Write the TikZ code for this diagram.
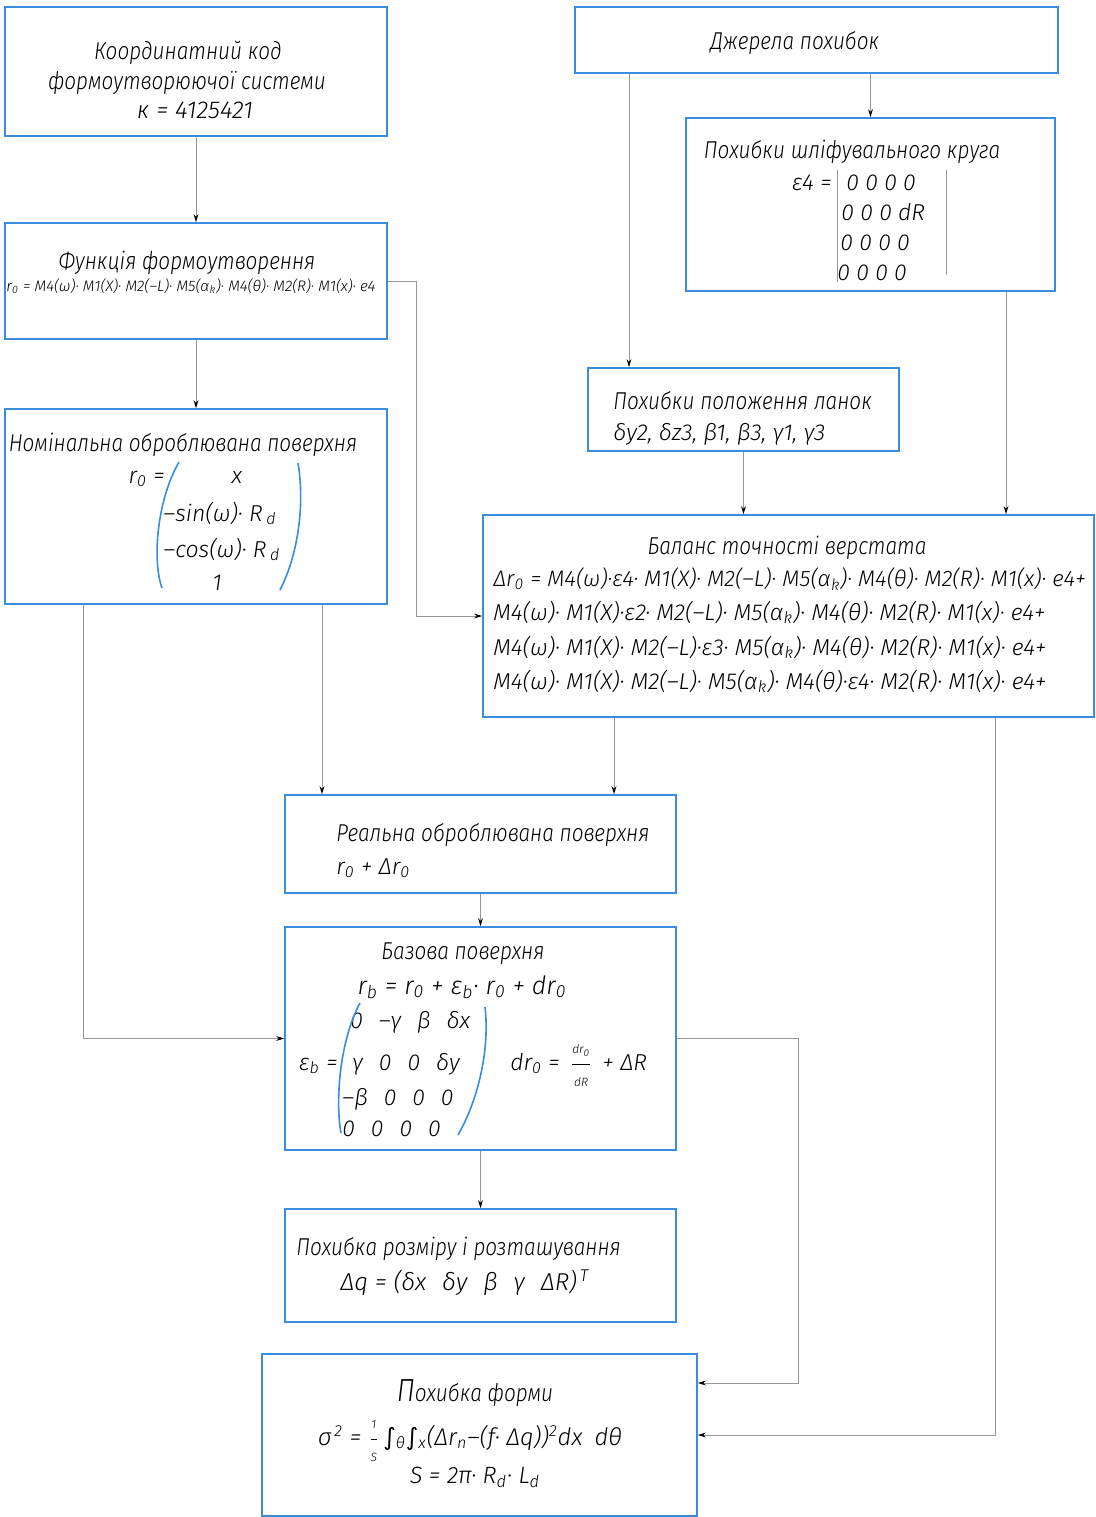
\documentclass[tikz,border=0pt]{standalone}
\usepackage{fontspec}
\setmainfont{Fira Sans Light Italic}
\newfontfamily\gst{Fira Sans Light Italic}[FakeStretch=0.85]
\newfontfamily\dvs{DejaVu Sans}
\usetikzlibrary{arrows.meta,fit}
\definecolor{boxblue}{RGB}{58,140,220}
\definecolor{conngray}{RGB}{150,150,150}
\newcommand\sbx[1]{\textsubscript{#1}}
\newcommand\spx[1]{\textsuperscript{#1}}
\newcommand\tfr[2]{\ensuremath{\displaystyle\frac{\hbox{\fontsize{6}{6}\selectfont #1}}{\hbox{\fontsize{6}{6}\selectfont #2}}}}
\begin{document}
\begin{tikzpicture}[x=0.5pt,y=-0.5pt,
  box/.style={draw=boxblue,line width=0.8pt,inner sep=0pt},
  conn/.style={draw=conngray,line width=0.5pt,-{Stealth[length=4pt,width=2.4pt,black]}},
  paren/.style={draw=boxblue,line width=0.8pt},
  vbar/.style={draw=conngray,line width=0.5pt},
  txt/.style={inner sep=0pt,anchor=base,font=\fontsize{11.5}{13}\selectfont},
  txtw/.style={txt,anchor=base west},
  txte/.style={txt,anchor=base east},
  ttl/.style={font=\gst\fontsize{12.2}{14}\selectfont},
  small/.style={font=\fontsize{7.6}{9}\selectfont}]
\useasboundingbox (0,0) rectangle (1096,1517);
% boxes
\node[box,fit={(5,7) (387,136)}] (b1) {};
\node[box,fit={(575,7) (1058,73)}] (b2) {};
\node[box,fit={(686,118) (1055,291)}] (b3) {};
\node[box,fit={(5,223) (387,339)}] (b4) {};
\node[box,fit={(588,368) (899,451)}] (b5) {};
\node[box,fit={(5,409) (387,604)}] (b6) {};
\node[box,fit={(483,515) (1094,717)}] (b7) {};
\node[box,fit={(285,795) (676,893)}] (b8) {};
\node[box,fit={(285,927) (676,1150)}] (b9) {};
\node[box,fit={(285,1209) (676,1322)}] (b10) {};
\node[box,fit={(262,1354) (697,1516)}] (b11) {};
% box 1
\node[txt,ttl] (t1a) at (188,59) {Координатний код};
\node[txt,ttl] (t1b) at (187,89) {формоутворюючої системи};
\node[txt,font=\fontsize{12.2}{14}\selectfont] (t1c) at (195,118) {к = 4125421};
% box 2
\node[txt,ttl] (t2) at (795,49) {Джерела похибок};
% box 3
\node[txt,ttl] (t3) at (852,158) {Похибки шліфувального круга};
\node[txte] (t3e) at (832,190) {ε4 =};
\node[txtw] (t3r1) at (846,190) {0 0 0 0};
\node[txtw] (t3r2) at (841,220) {0 0 0 dR};
\node[txtw] (t3r3) at (840,250) {0 0 0 0};
\node[txtw] (t3r4) at (837,280) {0 0 0 0};
\draw[vbar] (837,170) -- (837,282);
\draw[vbar] (946,170) -- (946,275);
% box 4
\node[txt,ttl] (t4) at (187,269) {Функція формоутворення};
\node[txtw,small] (t4f) at (6,291) {r\sbx{0} = M4(ω)· M1(X)· M2(–L)· M5(α\sbx{k})· M4(θ)· M2(R)· M1(x)· e4};
% box 5
\node[txtw,ttl] (t5a) at (613,409) {Похибки положення ланок};
\node[txtw] (t5b) at (613,440) {δy2, δz3, β1, β3, γ1, γ3};
% box 6
\node[txt,ttl] (t6) at (183,451) {Номінальна оброблювана поверхня};
\node[txte] (t6e) at (165,483) {r\sbx{0} =};
\node[txt] (t6r1) at (237,483) {x};
\node[txtw] (t6r2) at (163,521) {–sin(ω)· R\,\sbx{d}};
\node[txtw] (t6r3) at (163,557) {–cos(ω)· R\,\sbx{d}};
\node[txt] (t6r4) at (217,590) {1};
\draw[paren] (179,462) .. controls (157,500) and (152,560) .. (162,588);
\draw[paren] (298,463) .. controls (305,505) and (298,555) .. (280,590);
% box 7
\node[txt,ttl] (t7) at (787,554) {Баланс точності верстата};
\node[txtw,font=\fontsize{11.2}{13}\selectfont] (t7a) at (493,586) {Δr\sbx{0} = M4(ω)·ε4· M1(X)· M2(–L)· M5(α\sbx{k})· M4(θ)· M2(R)· M1(x)· e4+};
\node[txtw] (t7b) at (493,620) {M4(ω)· M1(X)·ε2· M2(–L)· M5(α\sbx{k})· M4(θ)· M2(R)· M1(x)· e4+};
\node[txtw] (t7c) at (493,655) {M4(ω)· M1(X)· M2(–L)·ε3· M5(α\sbx{k})· M4(θ)· M2(R)· M1(x)· e4+};
\node[txtw] (t7d) at (493,689) {M4(ω)· M1(X)· M2(–L)· M5(α\sbx{k})· M4(θ)·ε4· M2(R)· M1(x)· e4+};
% box 8
\node[txtw,ttl] (t8a) at (336,841) {Реальна оброблювана поверхня};
\node[txtw] (t8b) at (336,874) {r\sbx{0} + Δr\sbx{0}};
% box 9
\node[txt,ttl] (t9) at (463,959) {Базова поверхня};
\node[txt,font=\fontsize{12.6}{14}\selectfont] (t9f) at (462,994) {r\sbx{b} = r\sbx{0} + ε\sbx{b}· r\sbx{0} + dr\sbx{0}};
\node[txte] (t9e) at (338,1070) {ε\sbx{b} =};
\node[txtw] (t9r1) at (350,1028) {0\hspace{8pt}–γ\hspace{8pt}β\hspace{8pt}δx};
\node[txtw] (t9r2) at (352,1070) {γ\hspace{8pt}0\hspace{8pt}0\hspace{8pt}δy};
\node[txtw] (t9r3) at (342,1105) {–β\hspace{8pt}0\hspace{8pt}0\hspace{8pt}0};
\node[txtw] (t9r4) at (342,1136) {0\hspace{8pt}0\hspace{8pt}0\hspace{8pt}0};
\draw[paren] (360,1003) .. controls (340,1040) and (335,1100) .. (341,1133);
\draw[paren] (485,1007) .. controls (490,1050) and (478,1100) .. (458,1135);
\node[txtw] (t9d) at (510,1070) {dr\sbx{0} =\, \tfr{dr\sbx{0}}{dR}\, + ΔR};
% box 10
\node[txtw,ttl] (t10a) at (296,1255) {Похибка розміру і розташування};
\node[txtw,font=\fontsize{12.2}{14}\selectfont] (t10b) at (340,1290) {Δq = (δx\hspace{8pt}δy\hspace{8pt}β\hspace{8pt}γ\hspace{8pt}ΔR)\spx{\,T}};
% box 11
\node[txt,ttl] (t11) at (475,1401) {{\fontsize{16}{16}\selectfont П}охибка форми};
\node[txt,font=\fontsize{12}{14}\selectfont] (t11f) at (470,1445) {σ\spx{\,2} = \tfr{1}{S}\,{\dvs∫}\sbx{θ}{\dvs∫}\sbx{x}(Δr\sbx{n}–(f· Δq))\spx{2}dx\hspace{6pt}dθ};
\node[txt,font=\fontsize{11.8}{14}\selectfont] (t11s) at (475,1483) {S = 2π· R\sbx{d}· L\sbx{d}};
% helper x positions
\coordinate (x629) at (629,0);
\coordinate (x1006) at (1006,0);
\coordinate (x416) at (416,0);
\coordinate (x322) at (322,0);
\coordinate (x83) at (83,0);
\coordinate (x614) at (614,0);
\coordinate (x995) at (995,0);
\coordinate (c9r) at (798,1383);
% connectors
\draw[conn] (b1) -- (b4);
\draw[conn] (b3.north |- b2.south) -- (b3.north);
\draw[conn] (b2.south -| x629) -- (b5.north -| x629);
\draw[conn] (b3.south -| x1006) -- (b7.north -| x1006);
\draw[conn] (b4) -- (b6);
\draw[conn] (b4.east) -| (x416 |- b7.west) -- (b7.west);
\draw[conn] (b5.south) -- (b5.south |- b7.north);
\draw[conn] (b6.south -| x322) -- (b8.north -| x322);
\draw[conn] (b6.south -| x83) |- (b9.west);
\draw[conn] (b7.south -| x614) -- (b8.north -| x614);
\draw[conn] (b7.south -| x995) |- (b11.east);
\draw[conn] (b8) -- (b9);
\draw[conn] (b9) -- (b10);
\draw[conn] (b9.east) -| (c9r) -- (b11.east |- c9r);
\end{tikzpicture}
\end{document}
